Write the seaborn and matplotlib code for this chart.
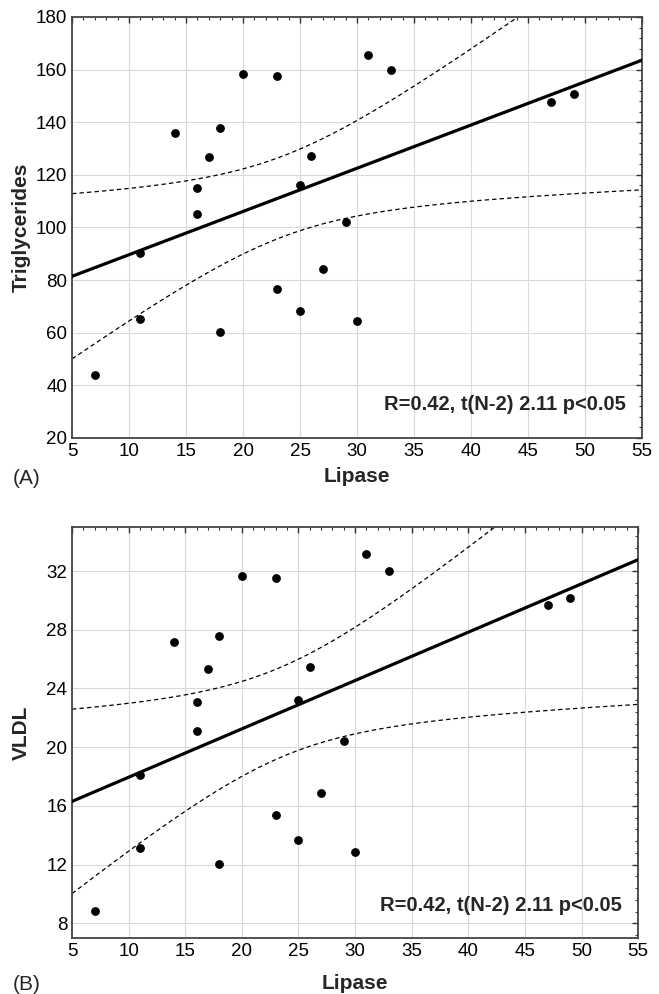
import numpy as np
import seaborn as sns
import matplotlib.pyplot as plt
from matplotlib.ticker import MultipleLocator, AutoMinorLocator

# lipase values (same patients in both panels)
lipase = [7, 11, 11, 14, 16, 16, 17, 18, 18, 20, 23, 23, 25, 25, 26, 27, 29, 30, 31, 33, 47, 49]
triglycerides = [44, 90.4, 65.1, 135.9, 115.1, 105.2, 126.7, 137.9, 60.2, 158.2, 157.4, 76.8,
                 116, 68.4, 127.1, 84.2, 102, 64.4, 165.6, 159.8, 147.7, 150.7]
vldl = [8.86, 18.08, 13.1, 27.2, 23.06, 21.13, 25.36, 27.56, 12.05, 31.66, 31.52, 15.39,
        23.22, 13.69, 25.43, 16.87, 20.44, 12.87, 33.14, 32.02, 29.66, 30.18]

stat_text = "R=0.42, t(N-2) 2.11 p<0.05"
t_crit = 2.086  # t(0.975, df=20)

sns.set_style("white")
plt.rcParams['font.family'] = ['Liberation Sans', 'DejaVu Sans']

fig = plt.figure(figsize=(6.59, 9.94), dpi=100)
ax_a = fig.add_axes([0.1093, 0.5594, 0.865, 0.4235])
ax_b = fig.add_axes([0.1093, 0.0563, 0.859, 0.4135])


def conf_band(ax, x, y):
    x = np.asarray(x, float)
    y = np.asarray(y, float)
    n = len(x)
    slope, icpt = np.polyfit(x, y, 1)
    resid = y - (slope * x + icpt)
    s = np.sqrt(np.sum(resid ** 2) / (n - 2))
    sxx = np.sum((x - x.mean()) ** 2)
    xs = np.linspace(5, 55, 300)
    half = t_crit * s * np.sqrt(1 / n + (xs - x.mean()) ** 2 / sxx)
    fit = slope * xs + icpt
    ax.plot(xs, fit + half, color="black", linestyle=(0, (3.5, 2.5)), lw=0.9)
    ax.plot(xs, fit - half, color="black", linestyle=(0, (3.5, 2.5)), lw=0.9)


def panel(ax, y, ylabel, ylim, ymajor, yticks, xlabelpad):
    ax.set_xlim(5, 55)
    ax.set_ylim(*ylim)
    sns.regplot(x=lipase, y=y, ax=ax, ci=None, truncate=False,
                scatter_kws=dict(s=40, color="black", alpha=1, linewidths=0, zorder=4),
                line_kws=dict(color="black", lw=2.3, zorder=3))
    conf_band(ax, lipase, y)
    ax.set_xlim(5, 55)
    ax.set_ylim(*ylim)
    ax.set_xticks(range(5, 56, 5))
    ax.set_yticks(yticks)
    ax.xaxis.set_minor_locator(AutoMinorLocator(5))
    ax.yaxis.set_minor_locator(MultipleLocator(ymajor / 5))
    ax.grid(True, which="major", color="#d9d9d9", lw=0.8)
    ax.set_axisbelow(True)
    ax.tick_params(which="both", direction="in", top=True, right=True, colors="#333333",
                   labelcolor="black", labelsize=13.5)
    ax.tick_params(which="major", length=4, width=1)
    ax.tick_params(which="minor", length=2, width=0.8)
    for sp in ax.spines.values():
        sp.set_color("#444444")
        sp.set_linewidth(1.3)
    ax.set_xlabel("Lipase", fontsize=15, fontweight="bold", labelpad=xlabelpad)
    ax.set_ylabel(ylabel, fontsize=15, fontweight="bold")
    w_px = ax.get_position().width * 659
    ax.yaxis.set_label_coords(-41 / w_px, 0.5)
    ax.text(0.972, 0.08, stat_text, transform=ax.transAxes, ha="right", va="center",
            fontsize=14.5, fontweight="bold")


panel(ax_a, triglycerides, "Triglycerides", (20, 180), 20, range(20, 181, 20), 5)
panel(ax_b, vldl, "VLDL", (7, 35), 4, range(8, 33, 4), 10)

fig.text(0.04, 0.519, "(A)", fontsize=15, ha="center", va="center")
fig.text(0.04, 0.01, "(B)", fontsize=15, ha="center", va="center")

plt.savefig("out.png", dpi=100)
